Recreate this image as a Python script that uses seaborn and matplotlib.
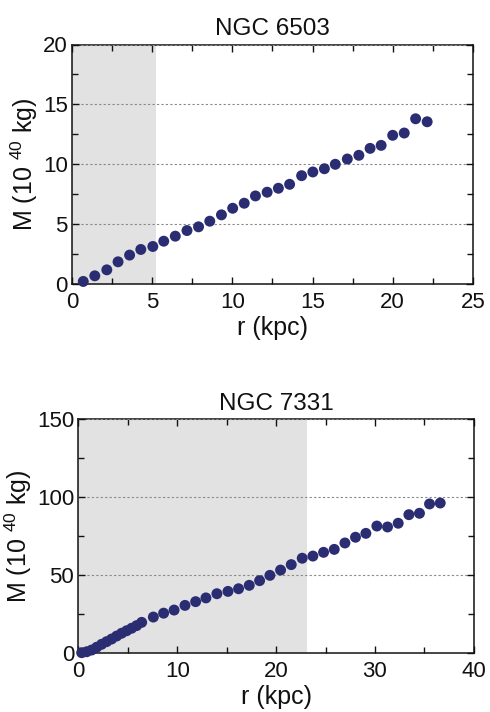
import numpy as np
import pandas as pd
import matplotlib
matplotlib.use("Agg")
import matplotlib.pyplot as plt
from matplotlib.ticker import MultipleLocator
import seaborn as sns

# ---- data ----
r_6503 = [0.70, 1.42, 2.17, 2.87, 3.59, 4.29, 5.04, 5.72, 6.44, 7.17, 7.89, 8.59,
          9.32, 10.02, 10.74, 11.44, 12.17, 12.87, 13.57, 14.32, 15.02, 15.74,
          16.42, 17.17, 17.89, 18.59, 19.28, 20.00, 20.72, 21.43, 22.15]
m_6503 = [0.22, 0.69, 1.19, 1.86, 2.42, 2.89, 3.14, 3.58, 4.00, 4.47, 4.78, 5.25,
          5.78, 6.33, 6.75, 7.36, 7.67, 8.00, 8.33, 9.05, 9.36, 9.63,
          10.00, 10.44, 10.75, 11.33, 11.58, 12.42, 12.61, 13.80, 13.55]

r_7331 = [0.33, 0.84, 1.34, 1.85, 2.35, 2.86, 3.36, 3.87, 4.37, 4.88, 5.38, 5.89,
          6.40, 7.58, 8.62, 9.68, 10.78, 11.86, 12.90, 14.01, 15.13, 16.20,
          17.28, 18.33, 19.37, 20.45, 21.53, 22.64, 23.72, 24.80, 25.88, 26.96,
          28.03, 29.08, 30.19, 31.27, 32.35, 33.43, 34.50, 35.52, 36.60]
m_7331 = [0.0, 0.6, 1.7, 3.5, 5.4, 7.1, 8.8, 10.7, 12.5, 14.1, 15.7, 17.4,
          19.5, 22.9, 25.4, 27.4, 30.4, 32.8, 35.2, 37.9, 39.4, 41.1,
          43.3, 46.3, 49.7, 53.1, 56.6, 60.7, 62.1, 64.5, 66.4, 70.5,
          74.2, 76.7, 81.4, 80.8, 83.2, 88.7, 89.6, 95.6, 96.2]

titles = ["NGC 6503", "NGC 7331"]
shade_end = [5.25, 23.1]
x_max = [25, 40]
y_max = [20, 150]
x_major = [5, 10]
y_major = [5, 50]

# ---- style ----
sns.set_style("ticks")
plt.rcParams["font.family"] = ["Liberation Sans", "DejaVu Sans"]
plt.rcParams["mathtext.fontset"] = "custom"
plt.rcParams["mathtext.rm"] = "Liberation Sans"
plt.rcParams["mathtext.it"] = "Liberation Sans"

fig = plt.figure(figsize=(4.9, 7.12), dpi=100)
ax1 = fig.add_axes([0.147, 0.601, 0.818, 0.3365])
ax2 = fig.add_axes([0.160, 0.0833, 0.807, 0.3278])

dfs = [pd.DataFrame({"r": r_6503, "M": m_6503}),
       pd.DataFrame({"r": r_7331, "M": m_7331})]

for i, ax in enumerate([ax1, ax2]):
    ax.axvspan(0, shade_end[i], color="#e2e2e2", lw=0, zorder=0)
    sns.scatterplot(data=dfs[i], x="r", y="M", ax=ax, color="#2b2d73",
                    s=62, edgecolor="none", zorder=3, clip_on=False)
    ax.set_xlim(0, x_max[i])
    ax.set_ylim(0, y_max[i])
    ax.xaxis.set_major_locator(MultipleLocator(x_major[i]))
    ax.xaxis.set_minor_locator(MultipleLocator(x_major[i] / 2))
    ax.yaxis.set_major_locator(MultipleLocator(y_major[i]))
    ax.yaxis.set_minor_locator(MultipleLocator(y_major[i] / 2))
    ax.tick_params(which="both", direction="in", top=True, right=True,
                   labelsize=16, width=1, color="#111111", labelcolor="#111111")
    ax.tick_params(which="major", length=5)
    ax.tick_params(axis="x", which="major", pad=6)
    ax.tick_params(axis="y", which="major", pad=3)
    ax.tick_params(which="minor", length=4)
    ax.yaxis.grid(True, which="major", linestyle=(0, (2, 2)), color="#888888", lw=0.8)
    ax.set_axisbelow(False)
    for sp in ax.spines.values():
        sp.set_linewidth(1.1)
        sp.set_color("#111111")
    ax.set_xlabel("r (kpc)", fontsize=18, labelpad=2, color="#111111")
    ax.set_ylabel(r"M (10 $^{40}$ kg)", fontsize=18, labelpad=2, color="#111111")
    ax.set_title(titles[i], fontsize=17.5, pad=7, color="#111111")

fig.savefig("out.png", dpi=100)
